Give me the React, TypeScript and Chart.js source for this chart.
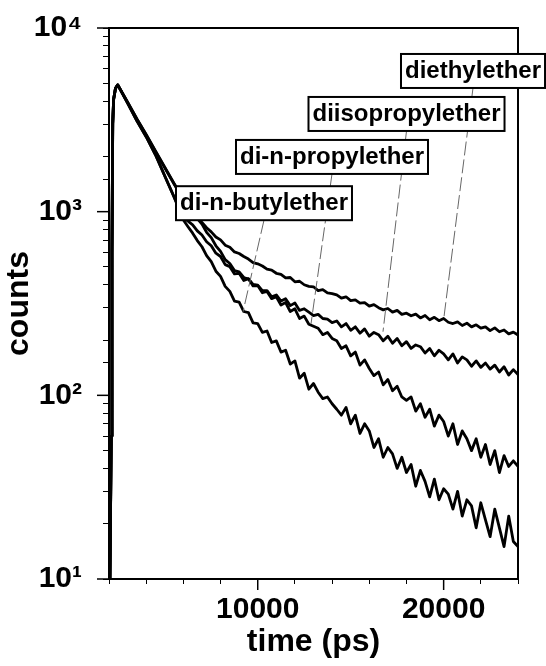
import React, { useEffect, useRef } from 'react';
import { Chart, registerables } from 'chart.js';

Chart.register(...registerables);

// ---------------- data ----------------
const timePs = [
  2050, 2120, 2160, 2200, 2250, 2350, 2470, 3000, 3500, 4000, 4500, 5000, 5500,
  6000, 6250, 6500, 6750, 7000, 7250, 7500, 7750, 8000, 8250, 8500, 8750, 9000, 9250, 9500, 9750,
  10000, 10250, 10500, 10750, 11000, 11250, 11500, 11750, 12000, 12250, 12500, 12750, 13000, 13250, 13500, 13750,
  14000, 14250, 14500, 14750, 15000, 15250, 15500, 15750, 16000, 16250, 16500, 16750, 17000, 17250, 17500, 17750,
  18000, 18250, 18500, 18750, 19000, 19250, 19500, 19750, 20000, 20250, 20500, 20750, 21000, 21250, 21500, 21750,
  22000, 22250, 22500, 22750, 23000, 23250, 23500, 23750, 24000,
];

const diethylether = [
  10, 60, 600, 3000, 4100, 4700, 4900, 3950, 3200, 2630, 2140, 1745, 1423,
  1172, 1088, 1015, 930, 874, 818, 776, 728, 702, 657, 640, 604, 592, 570, 552, 528,
  520, 506, 486, 481, 462, 456, 436, 438, 415, 418, 400, 392, 390, 372, 376, 361,
  358, 352, 338, 344, 328, 331, 318, 320, 306, 312, 300, 292, 297, 284, 290, 276,
  280, 271, 277, 264, 272, 258, 266, 255, 262, 250, 246, 251, 240, 247, 236, 242,
  232, 236, 225, 233, 222, 227, 216, 221, 213,
];

const diisopropylether = [
  10, 60, 600, 3000, 4100, 4700, 4900, 3950, 3200, 2620, 2130, 1735, 1415,
  1165, 1076, 1008, 918, 855, 772, 722, 652, 608, 548, 522, 478, 470, 438, 430, 402,
  398, 372, 372, 344, 352, 326, 336, 308, 318, 290, 296, 284, 272, 276, 262, 260,
  249, 254, 236, 246, 226, 236, 218, 230, 210, 220, 214, 198, 210, 192, 204, 186,
  196, 180, 188, 184, 170, 180, 164, 176, 168, 156, 168, 150, 162, 156, 144, 154,
  142, 150, 139, 146, 134, 143, 129, 138, 130,
];

const diNPropylether = [
  10, 60, 600, 3000, 4100, 4700, 4900, 3900, 3120, 2560, 2040, 1564, 1202,
  925, 888, 848, 786, 746, 686, 652, 594, 570, 515, 502, 458, 462, 422, 432, 394,
  396, 362, 368, 336, 344, 310, 320, 286, 296, 262, 270, 244, 238, 232, 214, 220,
  204, 198, 180, 186, 164, 172, 146, 156, 140, 128, 134, 114, 122, 106, 112, 98,
  94, 98, 82, 90, 76, 84, 68, 78, 72, 60, 70, 54, 64, 58, 50, 58,
  46, 54, 42, 50, 38, 47, 41, 44, 41,
];

const diNButylether = [
  10, 60, 600, 3000, 4100, 4700, 4900, 3900, 3120, 2560, 2040, 1564, 1202,
  900, 828, 764, 696, 644, 576, 534, 474, 444, 392, 368, 326, 322, 286, 282, 248,
  246, 220, 224, 194, 198, 172, 176, 148, 154, 124, 132, 108, 116, 104, 96, 98,
  90, 84, 78, 86, 70, 78, 62, 70, 64, 52, 58, 46, 52, 48, 40, 46,
  38, 42, 32, 39, 34, 28, 35, 27, 31, 29, 24, 30, 22, 27, 25, 19,
  26, 21, 17, 24, 19, 15, 22, 16, 15,
];

const seriesNames = ['diethylether', 'diisopropylether', 'di-n-propylether', 'di-n-butylether'];
const seriesValues = [diethylether, diisopropylether, diNPropylether, diNButylether];

const yDecades = [10, 100, 1000, 10000];
const yDecadeLabels = ['10\u00B9', '10\u00B2', '10\u00B3', '10\u2074'];
const xLabelledTicks = [10000, 20000];
const xTickLabels = ['10000', '20000'];

// label anchors (data units): box centre and the point the leader line reaches
const labelCentreTime = [21580, 18003, 13995, 10337];
const labelCentreCounts = [5835, 3404, 1986, 1112];
const leaderTime = [20020, 16738, 12866, 9208];
const leaderCounts = [268, 222, 245, 285];

// ---------------- styles ----------------
const FONT = '"Liberation Sans", Arial, Helvetica, sans-serif';

const framePlugin = {
  id: 'frameAndLabels',
  afterDraw(chart: any) {
    const { ctx, chartArea: a } = chart;
    const xs = chart.scales.x;
    const ys = chart.scales.y;
    ctx.save();
    // plot frame
    ctx.strokeStyle = '#000';
    ctx.lineWidth = 2;
    ctx.strokeRect(a.left, a.top, a.right - a.left, a.bottom - a.top);
    // longer major ticks
    ctx.lineWidth = 1.5;
    yDecades.forEach((v) => {
      const py = ys.getPixelForValue(v);
      ctx.beginPath();
      ctx.moveTo(a.left - 12, py);
      ctx.lineTo(a.left, py);
      ctx.stroke();
    });
    xLabelledTicks.forEach((v) => {
      const px = xs.getPixelForValue(v);
      ctx.beginPath();
      ctx.moveTo(px, a.bottom);
      ctx.lineTo(px, a.bottom + 11);
      ctx.stroke();
    });
    // leader lines
    ctx.font = `bold 24px ${FONT}`;
    const boxH = 34;
    ctx.strokeStyle = '#666';
    ctx.lineWidth = 1;
    ctx.setLineDash([14, 4]);
    seriesNames.forEach((name, i) => {
      const cx = xs.getPixelForValue(labelCentreTime[i]);
      const cy = ys.getPixelForValue(labelCentreCounts[i]);
      ctx.beginPath();
      ctx.moveTo(cx, cy + boxH / 2);
      ctx.lineTo(xs.getPixelForValue(leaderTime[i]), ys.getPixelForValue(leaderCounts[i]));
      ctx.stroke();
    });
    ctx.setLineDash([]);
    // boxes
    seriesNames.forEach((name, i) => {
      const cx = xs.getPixelForValue(labelCentreTime[i]);
      const cy = ys.getPixelForValue(labelCentreCounts[i]);
      const w = ctx.measureText(name).width + 8;
      ctx.fillStyle = '#fff';
      ctx.fillRect(cx - w / 2, cy - boxH / 2, w, boxH);
      ctx.strokeStyle = '#000';
      ctx.lineWidth = 2;
      ctx.strokeRect(cx - w / 2, cy - boxH / 2, w, boxH);
      ctx.fillStyle = '#000';
      ctx.textAlign = 'center';
      ctx.textBaseline = 'middle';
      ctx.fillText(name, cx, cy);
    });
    ctx.restore();
  },
};

export default function App() {
  const canvasRef = useRef<HTMLCanvasElement | null>(null);

  useEffect(() => {
    if (!canvasRef.current) return;
    Chart.defaults.font.family = FONT;
    Chart.defaults.color = '#000';
    const chart = new Chart(canvasRef.current, {
      type: 'line',
      data: {
        labels: timePs,
        datasets: seriesNames.map((name, i) => ({
          label: name,
          data: timePs.map((t, j) => ({ x: t, y: seriesValues[i][j] })),
          borderColor: '#000',
          backgroundColor: '#000',
          borderWidth: 2.8,
          pointRadius: 0,
          tension: 0,
          fill: false,
          borderJoinStyle: 'round',
        })),
      },
      options: {
        responsive: false,
        animation: false,
        layout: { padding: { top: 0, right: 28, left: 0, bottom: 0 } },
        plugins: { legend: { display: false }, tooltip: { enabled: false } },
        scales: {
          x: {
            type: 'linear',
            min: 2000,
            max: 24000,
            border: { color: '#000', width: 2 },
            grid: { drawOnChartArea: false, drawTicks: true, tickLength: 5, color: '#000', tickWidth: 1 },
            ticks: {
              stepSize: 2000,
              autoSkip: false,
              maxRotation: 0,
              padding: 8,
              color: '#000',
              font: { size: 30, weight: 'bold', lineHeight: 1.2 },
              callback: (v: any) => {
                const i = xLabelledTicks.findIndex((t) => Math.abs(t - Number(v)) < 1);
                return i >= 0 ? xTickLabels[i] : '';
              },
            },
            title: {
              display: true,
              text: 'time (ps)',
              color: '#000',
              font: { size: 32, weight: 'bold', lineHeight: 1.2 },
              padding: { top: 0, bottom: 5 },
            },
            afterFit: (s: any) => {
              s.height = 87;
            },
          },
          y: {
            type: 'logarithmic',
            min: 10,
            max: 10000,
            border: { color: '#000', width: 2 },
            grid: { drawOnChartArea: false, drawTicks: true, tickLength: 6, color: '#000', tickWidth: 1 },
            ticks: {
              autoSkip: false,
              padding: 21,
              color: '#000',
              font: { size: 30, weight: 'bold', lineHeight: '14px' },
              callback: (v: any) => {
                const i = yDecades.findIndex((d) => Math.abs(d - Number(v)) < 1e-6 * d);
                return i >= 0 ? yDecadeLabels[i] : '';
              },
            },
            title: {
              display: true,
              text: 'counts',
              color: '#000',
              font: { size: 32, weight: 'bold', lineHeight: 1.2 },
              padding: { top: 0, bottom: 0 },
            },
            afterFit: (s: any) => {
              s.width = 109;
            },
          },
        },
      },
      plugins: [framePlugin],
    } as any);
    return () => chart.destroy();
  }, []);

  return (
    <div style={{ position: 'fixed', left: 0, top: 0, width: 546, height: 666, background: '#fff' }}>
      <canvas ref={canvasRef} width={546} height={666} style={{ display: 'block' }} />
    </div>
  );
}
